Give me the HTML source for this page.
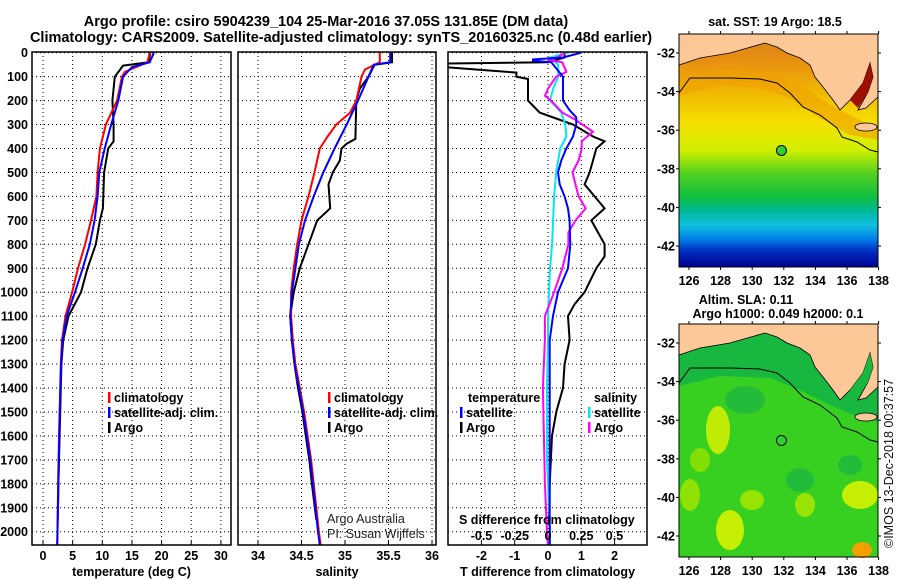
<!DOCTYPE html>
<html><head><meta charset="utf-8"><style>
body{margin:0;background:#fff}
svg{display:block;font-family:"Liberation Sans",sans-serif}
.t{font-weight:bold;font-size:12.5px}
</style></head><body>
<svg id="c" width="900" height="580" viewBox="0 0 900 580">
<defs>
<clipPath id="cp1"><rect x="32" y="52" width="199" height="493"/></clipPath>
<clipPath id="cp2"><rect x="238" y="52" width="198" height="493"/></clipPath>
<clipPath id="cp3"><rect x="448" y="52" width="199" height="493"/></clipPath>
<linearGradient id="sst" x1="0" y1="0" x2="0" y2="1">
<stop offset="0" stop-color="#d8801c"/><stop offset="0.12" stop-color="#e89010"/>
<stop offset="0.25" stop-color="#f0b800"/><stop offset="0.38" stop-color="#f5e000"/>
<stop offset="0.5" stop-color="#d0f000"/><stop offset="0.6" stop-color="#50d020"/>
<stop offset="0.7" stop-color="#10c040"/><stop offset="0.76" stop-color="#00b898"/>
<stop offset="0.82" stop-color="#10c0e0"/><stop offset="0.88" stop-color="#0080e8"/>
<stop offset="0.93" stop-color="#0030c0"/><stop offset="1" stop-color="#000090"/>
</linearGradient>
</defs>
<g id="titles" class="t" font-size="14">
<text x="326" y="26" text-anchor="middle" font-size="14.5">Argo profile: csiro 5904239_104 25-Mar-2016 37.05S 131.85E (DM data)</text>
<text x="341" y="42" text-anchor="middle" font-size="14.5">Climatology: CARS2009. Satellite-adjusted climatology: synTS_20160325.nc (0.48d earlier)</text>
</g>
<g id="plots"></g>
<g id="maps"></g>
</svg>
<script>
// ---- Temperature panel data (deg C) ----
const tClimDepth=[0,40,80,100,200,300,400,500,600,700,800,900,1000,1100,1200,1300,1400,1600,1800,2000,2055];
const tClim=[18.0,17.6,13.8,13.3,12.5,10.6,9.6,9.2,9.0,8.1,7.1,5.9,4.9,3.8,3.2,3.0,2.9,2.7,2.55,2.45,2.4];
const tSatDepth=[0,40,60,100,200,300,400,500,600,700,800,900,1000,1100,1200,1300,1400,1600,1800,2000,2055];
const tSat=[18.7,18.0,15.0,13.5,12.7,11.5,10.4,9.5,9.2,8.7,7.9,6.7,5.4,4.0,3.3,3.05,2.95,2.75,2.6,2.45,2.4];
const tArgoDepth=[0,40,54,100,200,300,370,400,500,650,700,800,900,1000,1100,1200,1300,1400,1600,1800,1950];
const tArgo=[18.1,17.8,13.5,12.1,11.7,11.9,11.9,11.0,10.3,10.1,9.6,8.9,7.5,6.4,4.3,3.4,3.1,3.0,2.8,2.6,2.5];
// ---- Salinity panel data ----
const sClimDepth=[0,40,70,100,200,250,300,350,400,500,600,700,800,900,1000,1100,1200,1300,1400,1500,1600,1700,1800,1900,2000,2055];
const sClim=[35.40,35.40,35.23,35.19,35.13,35.06,34.90,34.80,34.71,34.65,34.58,34.50,34.45,34.41,34.38,34.38,34.40,34.43,34.48,34.53,34.57,34.61,34.64,34.67,34.70,34.72];
const sSatDepth=[0,40,50,100,200,300,400,500,600,700,800,900,1000,1100,1200,1300,1400,1500,1600,1700,1800,1900,2000,2055];
const sSat=[35.52,35.52,35.33,35.27,35.15,35.02,34.88,34.75,34.64,34.54,34.47,34.43,34.39,34.37,34.39,34.42,34.47,34.52,34.56,34.60,34.63,34.66,34.69,34.71];
const sArgoDepth=[0,40,50,100,150,200,360,380,400,450,500,550,650,700,800,900,1000,1100,1200,1300,1400,1500,1600,1700,1800,1950];
const sArgo=[35.54,35.54,35.34,35.27,35.17,35.13,35.12,35.02,34.96,34.94,34.86,34.81,34.83,34.68,34.58,34.48,34.41,34.37,34.39,34.42,34.46,34.51,34.55,34.59,34.62,34.67];
// ---- Difference panel data ----
const dTArgoDepth=[0,20,40,45,60,83,100,110,200,250,300,350,370,400,450,500,550,600,650,700,800,850,900,1000,1050,1100,1200,1300,1400,1500,1600,1800,1950];
const dTArgo=[0.5,0.5,0.0,-3.1,-3.1,-0.95,-0.95,-0.6,-0.6,-0.25,0.75,1.35,1.7,1.45,1.35,1.25,1.1,1.4,1.7,1.3,1.7,1.7,1.45,1.1,0.8,0.6,0.65,0.5,0.45,0.25,0.12,0.05,0.03];
const dTSatDepth=[0,20,28,33,40,100,200,240,270,300,350,400,450,500,550,600,650,700,800,900,950,1000,1100,1200,1500,2000,2055];
const dTSat=[1.0,0.45,-0.45,-0.45,0.1,0.45,0.45,0.65,0.85,0.85,0.75,0.55,0.4,0.3,0.35,0.5,0.6,0.65,0.67,0.6,0.45,0.3,0.15,0.05,0.05,0.05,0.05];
const dSArgoDepth=[0,20,30,40,80,100,150,180,200,250,280,330,370,400,450,500,550,600,650,700,750,800,900,1000,1100,1200,1400,1600,1800,2000,2055];
const dSArgo=[0.17,0.09,0.0,0.14,0.18,0.08,0.0,-0.03,0.03,0.14,0.27,0.44,0.33,0.33,0.3,0.24,0.27,0.3,0.37,0.27,0.2,0.2,0.14,0.06,-0.03,-0.03,-0.05,-0.04,-0.03,-0.01,0.0];
const dSSatDepth=[0,20,50,100,150,200,250,300,350,400,500,600,700,800,900,1000,1100,1200,1400,1700,2000,2055];
const dSSat=[0.2,0.02,0.1,0.1,0.05,0.02,0.13,0.17,0.18,0.12,0.08,0.06,0.05,0.04,0.02,0.01,0.0,0.0,-0.01,-0.01,0.02,0.02];
// ---- axis ticks ----
const depthTicks=[0,100,200,300,400,500,600,700,800,900,1000,1100,1200,1300,1400,1500,1600,1700,1800,1900,2000];
const tTicks=[0,5,10,15,20,25,30];
const sTicks=[34,34.5,35,35.5,36];
const dTTicks=[-2,-1,0,1,2];
const dSTickLabels=["-0.5","-0.25","0","0.25","0.5"];
const dSTicks=[-0.5,-0.25,0,0.25,0.5];
const latTicks=[-32,-34,-36,-38,-40,-42];
const lonTicks=[126,128,130,132,134,136,138];

const NS='http://www.w3.org/2000/svg';
function mk(tag,attrs,parent){const e=document.createElementNS(NS,tag);for(const k in attrs)e.setAttribute(k,attrs[k]);if(parent)parent.appendChild(e);return e;}
const yD=d=>52.7+d*0.2395;
const xT=v=>43+v*5.93;
const xS=v=>258+(v-34)*87;
const xDT=v=>548+v*33.3;
const xDS=v=>548+v*102;
const G=document.getElementById('plots');

function panel(id,x0,x1,xf,ticks,labels,title){
  const g=mk('g',{},G);
  
  
  const grid=mk('g',{stroke:'#000','stroke-width':1,'stroke-dasharray':'1,3'},g);
  
  
  depthTicks.forEach(d=>{mk('line',{x1:x0,x2:x1,y1:yD(d),y2:yD(d)},grid);});
  ticks.forEach(v=>{mk('line',{x1:xf(v),x2:xf(v),y1:52,y2:545},grid);});
  const tl=mk('g',{class:'t','text-anchor':'middle'},g);
  
  
  ticks.forEach((v,i)=>{const t=mk('text',{x:xf(v),y:560},tl);t.textContent=labels[i];
    mk('line',{x1:xf(v),x2:xf(v),y1:545,y2:541,stroke:'#000'},g);});
  const at=mk('text',{x:(x0+x1)/2,y:576,class:'t','text-anchor':'middle'},g);
  
  
  at.textContent=title;
  return g;
}
function line(g,depths,vals,xf,color,name,clip){
  const p=depths.map((d,i)=>xf(vals[i]).toFixed(1)+','+yD(d).toFixed(1)).join(' ');
  const pl=mk('polyline',{points:p,fill:'none',stroke:color,'stroke-width':2,'clip-path':'url(#'+clip+')'},g);
  
  
}
function border(g,x0,x1){mk('rect',{x:x0,y:52,width:x1-x0,height:493,fill:'none',stroke:'#000','stroke-width':1.5},g);}
function legend(g,x,y,color,text,name){
  const lg=mk('g',{},g);
  
  
  mk('rect',{x:x,y:y-10,width:2.5,height:11,fill:color},lg);
  const t=mk('text',{x:x+6,y:y,class:'t'},lg);t.textContent=text;
}

// panel 1
const g1=panel('temperature',32,231,xT,tTicks,tTicks.map(String),'temperature (deg C)');
line(g1,tArgoDepth,tArgo,xT,'#000','temperature-argo-line','cp1');
line(g1,tClimDepth,tClim,xT,'#ff0000','temperature-climatology-line','cp1');
line(g1,tSatDepth,tSat,xT,'#0000ff','temperature-satellite-line','cp1');
border(g1,32,231);
legend(g1,108,402,'#ff0000','climatology','legend-entry-climatology');
legend(g1,108,417,'#0000ff','satellite-adj. clim.','legend-entry-satellite');
legend(g1,108,432,'#000','Argo','legend-entry-argo');
const yl=mk('g',{class:'t','text-anchor':'end'},g1);


depthTicks.forEach(d=>{const t=mk('text',{x:28,y:yD(d)+4.5},yl);t.textContent=d;});

// panel 2
const g2=panel('salinity',238,436,xS,sTicks,sTicks.map(String),'salinity');
line(g2,sArgoDepth,sArgo,xS,'#000','salinity-argo-line','cp2');
line(g2,sClimDepth,sClim,xS,'#ff0000','salinity-climatology-line','cp2');
line(g2,sSatDepth,sSat,xS,'#0000ff','salinity-satellite-line','cp2');
border(g2,238,436);
legend(g2,328,402,'#ff0000','climatology','legend-entry-climatology-s');
legend(g2,328,417,'#0000ff','satellite-adj. clim.','legend-entry-satellite-s');
legend(g2,328,432,'#000','Argo','legend-entry-argo-s');
const cr=mk('g',{'font-size':'12.5',fill:'#222'},g2);


mk('text',{x:327,y:523},cr).textContent='Argo Australia';
mk('text',{x:327,y:538},cr).textContent='PI: Susan Wijffels';

// panel 3
const g3=panel('difference',448,647,xDT,dTTicks,dTTicks.map(String),'T difference from climatology');
line(g3,dTArgoDepth,dTArgo,xDT,'#000','t-diff-argo-line','cp3');
line(g3,dSSatDepth,dSSat,xDS,'#00e8f0','s-diff-satellite-line','cp3');
line(g3,dSArgoDepth,dSArgo,xDS,'#ff00ff','s-diff-argo-line','cp3');
line(g3,dTSatDepth,dTSat,xDT,'#0000ff','t-diff-satellite-line','cp3');
border(g3,448,647);
const lh=mk('text',{x:468,y:402,class:'t'},g3);lh.textContent='temperature';

const lh2=mk('text',{x:594,y:402,class:'t'},g3);lh2.textContent='salinity';

legend(g3,460,417,'#0000ff','satellite','legend-entry-t-satellite');
legend(g3,460,432,'#000','Argo','legend-entry-t-argo');
legend(g3,588,417,'#00e8f0','satellite','legend-entry-s-satellite');
legend(g3,588,432,'#ff00ff','Argo','legend-entry-s-argo');
const st=mk('text',{x:459,y:524,class:'t'},g3);st.textContent='S difference from climatology';

const sl=mk('g',{class:'t','text-anchor':'middle'},g3);

dSTicks.forEach((v,i)=>{const t=mk('text',{x:548+v*133,y:540},sl);t.textContent=dSTickLabels[i];});

// ---- maps ----
const mx=lon=>689+(lon-126)*15.8;
const M=document.getElementById('maps');
function map(oy,name,sst){
  const g=mk('g',{transform:'translate(0,'+oy+')'},M);
  
  
  const my=lat=>53+(-32-lat)*19.3;
  if(sst){
    mk('rect',{x:679,y:34,width:199,height:233,fill:'url(#sst)'},g);
    mk('path',{d:'M679,80 L720,70 L770,72 L800,85 L830,105 L860,120 L878,128 L878,140 L850,135 L820,118 L790,98 L760,88 L720,85 L679,96Z',fill:'#f0a000',opacity:0.6},g);
  } else {
    mk('rect',{x:679,y:34,width:199,height:233,fill:'#38d020'},g);
    const blobs=[[718,140,12,24,'#d8f000'],[730,240,14,20,'#e0f400'],[860,205,18,14,'#e0f400'],[752,210,12,10,'#a8e800'],[805,215,10,12,'#a8e800'],[745,110,20,14,'#20b840'],[800,190,14,12,'#20b840'],[700,170,10,12,'#90e000'],[690,205,10,16,'#a0e400'],[850,175,12,10,'#20b840']];
    blobs.forEach(b=>mk('ellipse',{cx:b[0],cy:b[1],rx:b[2],ry:b[3],fill:b[4],opacity:0.85},g));
    mk('ellipse',{cx:862,cy:260,rx:10,ry:8,fill:'#f0a000'},g);
    mk('path',{d:'M679,96 L720,86 L770,88 L800,100 L830,115 L860,128 L878,132 L878,34 L679,34Z',fill:'#18b840'},g);
  }
  mk('path',{d:'M679,65 L700,58 L730,53 L765,43 L777,47 L787,53 L800,58 L810,65 L815,77 L823,87 L833,100 L840,110 L850,100 L863,83 L870,63 L873,77 L868,92 L858,110 L866,108 L878,97 L878,34 L679,34Z',fill:'#fcc898',stroke:'#000','stroke-width':0.8},g);
  mk('path',{d:'M850,100 L863,83 L870,63 L873,77 L868,92 L858,108Z',fill:sst?'#a01000':'#18b840'},g);
  mk('ellipse',{cx:866,cy:127,rx:11,ry:4,fill:'#fcc898',stroke:'#000','stroke-width':0.8},g);
  mk('polyline',{points:'679,93 690,78 730,78 760,79 777,83 790,93 803,107 820,115 837,128 842,137 857,142 870,150 878,152',fill:'none',stroke:'#000','stroke-width':1},g);
  const fp=mk('circle',{cx:mx(131.85),cy:my(-37.05),r:5,fill:'#30d030',stroke:'#000','stroke-width':1},g);
  
  
  mk('rect',{x:679,y:34,width:199,height:233,fill:'none',stroke:'#000','stroke-width':1},g);
  const lab=mk('g',{class:'t','font-size':'13'},g);
  
  
  latTicks.forEach(l=>{const t=mk('text',{x:675,y:my(l)+4.5,'text-anchor':'end'},lab);t.textContent=l;
    mk('line',{x1:679,x2:676,y1:my(l),y2:my(l),stroke:'#000'},g);mk('line',{x1:878,x2:881,y1:my(l),y2:my(l),stroke:'#000'},g);});
  lonTicks.forEach(l=>{const t=mk('text',{x:mx(l),y:285,'text-anchor':'middle'},lab);t.textContent=l;
    mk('line',{x1:mx(l),x2:mx(l),y1:34,y2:31,stroke:'#000'},g);mk('line',{x1:mx(l),x2:mx(l),y1:267,y2:270,stroke:'#000'},g);});
}
map(0,'sst-map',true);
map(290,'sla-map',false);
const mt=mk('g',{class:'t','text-anchor':'middle','font-size':'12.5'},M);

mk('text',{x:775,y:26},mt).textContent='sat. SST: 19 Argo: 18.5';
mk('text',{x:746,y:304},mt).textContent='Altim. SLA: 0.11';
mk('text',{x:778,y:318},mt).textContent='Argo h1000: 0.049 h2000: 0.1';
const ts=mk('text',{x:0,y:0,'font-size':'12.5',fill:'#111',transform:'translate(893,548) rotate(-90)'},M);

ts.textContent='©IMOS 13-Dec-2018 00:37:57';
</script>
</body></html>
